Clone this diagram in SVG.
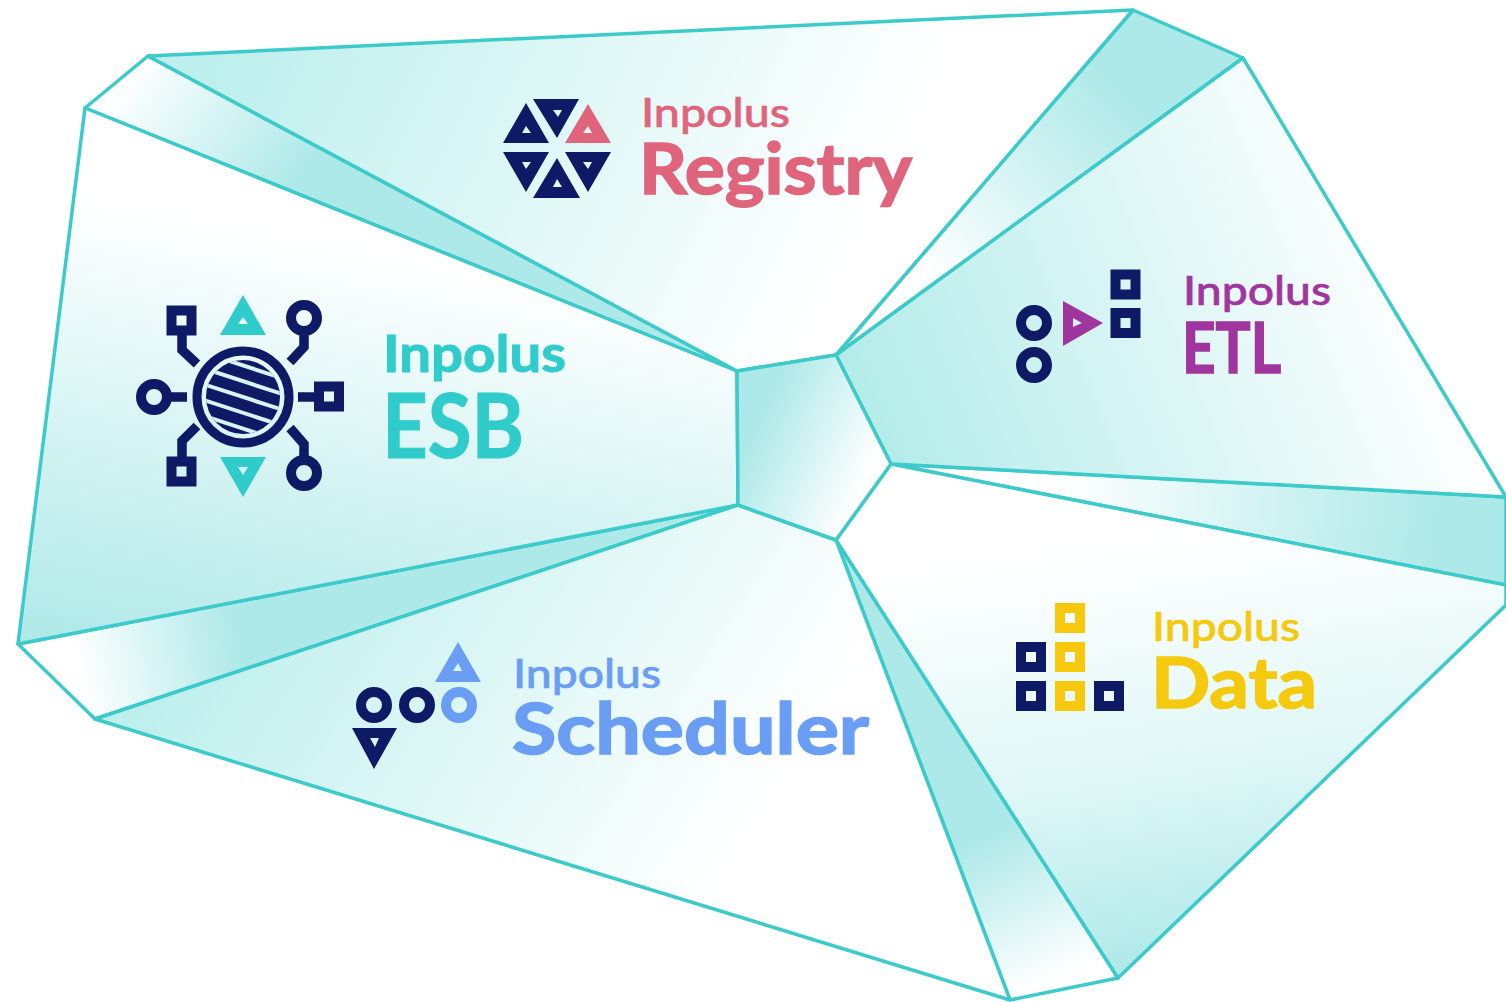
<svg xmlns="http://www.w3.org/2000/svg" width="1506" height="1002" viewBox="0 0 1506 1002">
<style>
.p{stroke:#3ccaca;stroke-width:3.5;stroke-linejoin:round}
.n{fill:#0e1a66;fill-rule:evenodd}
.tl{fill:#30cccc;fill-rule:evenodd}
.sq{fill:none;stroke:#0e1a66;stroke-width:10}
.ci{fill:none;stroke:#0e1a66;stroke-width:10}
.w{fill:none;stroke:#0e1a66;stroke-width:9.5}
text{font-family:"Lato","Open Sans",sans-serif;font-weight:700;fill:currentColor;stroke:currentColor;stroke-width:1}
.s{font-size:41px;font-weight:500;stroke-width:.6}
.b{font-size:71px;stroke-width:1.6}
</style>
<defs>
<linearGradient id="gEsb" gradientUnits="userSpaceOnUse" x1="310" y1="240" x2="230" y2="680"><stop offset="0" stop-color="#fff"/><stop offset="1" stop-color="#aee9e8"/></linearGradient>
<linearGradient id="gReg" gradientUnits="userSpaceOnUse" x1="220" y1="30" x2="820" y2="320"><stop offset="0" stop-color="#bcefed"/><stop offset="1" stop-color="#fff"/></linearGradient>
<linearGradient id="gEtl" gradientUnits="userSpaceOnUse" x1="880" y1="440" x2="1400" y2="230"><stop offset="0" stop-color="#b4ecea"/><stop offset="1" stop-color="#fff"/></linearGradient>
<linearGradient id="gDat" gradientUnits="userSpaceOnUse" x1="1060" y1="550" x2="1120" y2="975"><stop offset="0" stop-color="#fff"/><stop offset=".55" stop-color="#dff7f6"/><stop offset="1" stop-color="#ade9e8"/></linearGradient>
<linearGradient id="gSch" gradientUnits="userSpaceOnUse" x1="230" y1="560" x2="720" y2="880"><stop offset="0" stop-color="#bdefed"/><stop offset="1" stop-color="#fff"/></linearGradient>
<linearGradient id="gA" gradientUnits="userSpaceOnUse" x1="130" y1="70" x2="290" y2="190"><stop offset="0" stop-color="#fff"/><stop offset="1" stop-color="#ade9e8"/></linearGradient>
<linearGradient id="gB" gradientUnits="userSpaceOnUse" x1="1190" y1="30" x2="930" y2="280"><stop offset="0" stop-color="#ade9e8"/><stop offset=".25" stop-color="#ade9e8"/><stop offset="1" stop-color="#fff"/></linearGradient>
<linearGradient id="gC" gradientUnits="userSpaceOnUse" x1="1060" y1="480" x2="1480" y2="540"><stop offset="0" stop-color="#fff"/><stop offset=".9" stop-color="#ade9e8"/></linearGradient>
<linearGradient id="gD" gradientUnits="userSpaceOnUse" x1="950" y1="760" x2="1050" y2="980"><stop offset="0" stop-color="#ade9e8"/><stop offset=".35" stop-color="#ade9e8"/><stop offset="1" stop-color="#fff"/></linearGradient>
<linearGradient id="gE" gradientUnits="userSpaceOnUse" x1="80" y1="680" x2="240" y2="650"><stop offset="0" stop-color="#fff"/><stop offset="1" stop-color="#ade9e8"/></linearGradient>
<linearGradient id="gH" gradientUnits="userSpaceOnUse" x1="760" y1="420" x2="870" y2="470"><stop offset="0" stop-color="#ade9e8"/><stop offset="1" stop-color="#fff"/></linearGradient>
<clipPath id="disc"><circle cx="243" cy="397" r="37"/></clipPath>
<rect id="sqr" class="sq" x="-10" y="-10" width="20" height="20"/>
</defs>
<rect width="1506" height="1002" fill="#fff"/>
<g id="panels">
<polygon class="p" fill="url(#gA)" points="85,108 148,56 737,371"/>
<polygon class="p" fill="url(#gB)" points="836,355 1133,10 1243,58"/>
<polygon class="p" fill="url(#gC)" points="891,464 1506,497 1506,585"/>
<polygon class="p" fill="url(#gD)" points="836,540 1118,978 1010,1000"/>
<polygon class="p" fill="url(#gE)" points="18,644 738,505 95,719"/>
<polygon id="panel-esb" class="p" fill="url(#gEsb)" points="85,108 737,371 738,505 18,644"/>
<polygon id="panel-registry" class="p" fill="url(#gReg)" points="148,56 1133,10 836,355 737,371"/>
<polygon id="panel-etl" class="p" fill="url(#gEtl)" points="1243,58 1506,497 891,464 836,355"/>
<polygon id="panel-data" class="p" fill="url(#gDat)" points="891,464 1506,585 1506,605 1118,978 836,540"/>
<polygon id="panel-scheduler" class="p" fill="url(#gSch)" points="738,505 836,540 1010,1000 95,719"/>
<polygon id="panel-hub" class="p" fill="url(#gH)" points="737,371 836,355 891,464 836,540 738,505"/>
</g>
<g id="esb" color="#30cccc">
<path class="tl" d="M243 295L266 335H220ZM243 317L238 324H248ZM220 457H266L243 497ZM238 467L243 475L248 467Z"/>
<circle cx="243" cy="397" r="46" fill="none" stroke="#0e1a66" stroke-width="9"/>
<g clip-path="url(#disc)">
<circle cx="243" cy="397" r="38" fill="#0e1a66"/>
<g stroke="#d8f5f4" stroke-width="4" transform="rotate(18 243 397)">
<line x1="190" x2="296" y1="367" y2="367"/><line x1="190" x2="296" y1="382" y2="382"/><line x1="190" x2="296" y1="397" y2="397"/><line x1="190" x2="296" y1="412" y2="412"/><line x1="190" x2="296" y1="427" y2="427"/>
</g>
</g>
<use href="#sqr" x="181.5" y="320.5"/><use href="#sqr" x="329" y="396.5"/><use href="#sqr" x="181.5" y="471.5"/>
<circle class="ci" cx="304" cy="318" r="13"/><circle class="ci" cx="154" cy="397" r="13"/><circle class="ci" cx="304" cy="473" r="13"/>
<path class="w" d="M182 335V350L197 364M304 332V347L290 362M167 397H187M298 397H316M182 457V441L197 426M304 460V444L290 428"/>
<text x="383" y="372" font-size="51" textLength="183" lengthAdjust="spacingAndGlyphs">Inpolus</text>
<text x="382" y="458" font-size="90" stroke-width="2" textLength="142" lengthAdjust="spacingAndGlyphs">ESB</text>
</g>
<g id="registry" color="#e0647c">
<path class="n" d="M533 99H579L557 138ZM553 110L558 117L562 110ZM526 103L549 143H503ZM526 126L522 133H531ZM503 152H549L526 192ZM522 162L526 169L531 162ZM557 158L580 198H533ZM557 179L553 187H562ZM565 152H611L588 192ZM583 162L588 169L592 162Z"/>
<path fill="#e0647c" fill-rule="evenodd" d="M588 104L611 143H565ZM588 126L583 133H592Z"/>
<text class="s" x="641" y="127" textLength="149" lengthAdjust="spacingAndGlyphs">Inpolus</text>
<text class="b" x="639" y="194" textLength="273" lengthAdjust="spacingAndGlyphs">Registry</text>
</g>
<g id="etl" color="#a0359f">
<circle class="ci" cx="1034" cy="323" r="13"/><circle class="ci" cx="1034" cy="365" r="13"/>
<use href="#sqr" x="1125.5" y="284.5"/><use href="#sqr" x="1125.5" y="323"/>
<path fill="#a0359f" fill-rule="evenodd" d="M1063 301L1103 323L1063 346ZM1073 318V327L1082 323Z"/>
<text class="s" x="1183" y="305" textLength="148" lengthAdjust="spacingAndGlyphs">Inpolus</text>
<text class="b" x="1182" y="373" textLength="99" lengthAdjust="spacingAndGlyphs">ETL</text>
</g>
<g id="data" color="#f5c90e">
<use href="#sqr" x="1031" y="657"/><use href="#sqr" x="1031" y="696"/><use href="#sqr" x="1109" y="696"/>
<g fill="none" stroke="#f7c80c" stroke-width="10"><rect x="1060" y="608" width="20" height="20"/><rect x="1060" y="647" width="20" height="20"/><rect x="1060" y="686" width="20" height="20"/></g>
<text class="s" x="1152" y="641" textLength="148" lengthAdjust="spacingAndGlyphs">Inpolus</text>
<text class="b" x="1151" y="708" textLength="166" lengthAdjust="spacingAndGlyphs">Data</text>
</g>
<g id="scheduler" color="#6a9ef5">
<circle class="ci" cx="374" cy="705" r="13"/><circle class="ci" cx="417" cy="705" r="13"/>
<circle cx="459" cy="705" r="13" fill="none" stroke="#6a9ef5" stroke-width="10"/>
<path fill="#6a9ef5" fill-rule="evenodd" d="M458 642L481 682H435ZM458 663L453 671H462Z"/>
<path class="n" d="M352 728H397L374 769ZM370 738L375 747L379 738Z"/>
<text class="s" x="513" y="688" textLength="148" lengthAdjust="spacingAndGlyphs">Inpolus</text>
<text class="b" x="512" y="754" textLength="357" lengthAdjust="spacingAndGlyphs">Scheduler</text>
</g>
</svg>
